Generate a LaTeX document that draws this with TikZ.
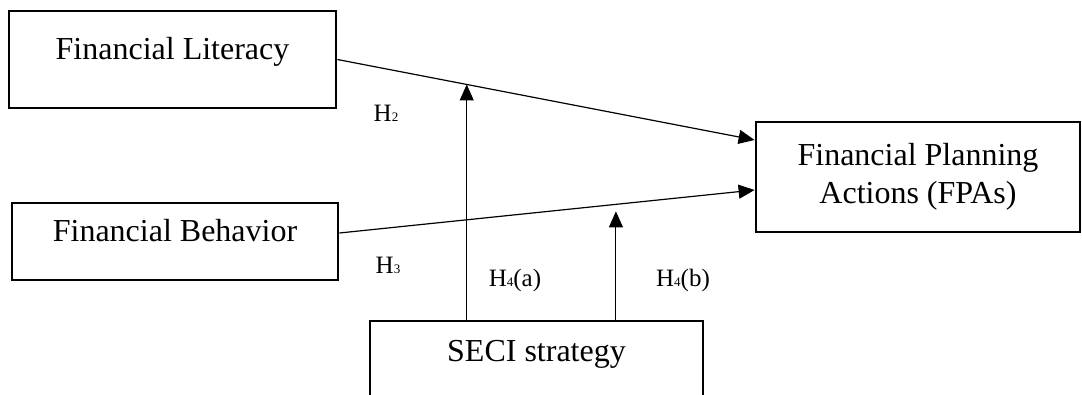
\documentclass[tikz,border=0pt]{standalone}
\usepackage{fontspec}
\setmainfont{Liberation Serif}
\usetikzlibrary{arrows.meta}
\newcommand{\hypo}[1]{H{\fontsize{13}{13}\selectfont #1}}

\begin{document}
\begin{tikzpicture}[x=1pt,y=1pt,
    box/.style={draw,rectangle,line width=2.8pt,inner sep=0pt,align=center,
      font=\fontsize{32}{38}\selectfont},
    midtext/.style={text height=23pt,text depth=23pt},
    lbl/.style={anchor=base,font=\fontsize{25}{30}\selectfont},
    arr/.style={-{Triangle[length=16pt,width=14pt]},line width=1.2pt}]
          \useasboundingbox (0,0) rectangle (1082,394);
          \clip (0,0) rectangle (1082,394);
          \node[box,midtext,minimum width=327pt,minimum height=97pt] (lit) at (172.5,334.5) {Financial Literacy};
          \node[box,midtext,minimum width=326pt,minimum height=77pt] (beh) at (175,152.5) {Financial Behavior};
          \node[box,minimum width=324pt,minimum height=110pt] (fpa) at (918,217) {Financial Planning\\Actions (FPAs)};
          \node[box,midtext,minimum width=333pt,minimum height=80pt] (seci) at (536.5,33) {SECI strategy};
          \draw[arr] (lit.east) -- coordinate[pos=0.31] (ma) ([yshift=37pt]fpa.west);
          \draw[arr] ([yshift=8.5pt]beh.east) -- coordinate[pos=0.666] (mb) ([yshift=-13pt]fpa.west);
          \draw[arr,line width=1pt] (seci.north -| ma) -- (ma);
          \draw[arr,line width=1pt] (seci.north -| mb) -- ([yshift=-7pt]mb);
          \node[lbl] (h2) at (386,272) {\hypo{2}};
          \node[lbl] (h3) at (388,121) {\hypo{3}};
          \node[lbl] (h4a) at (515,107) {\hypo{4}(a)};
          \node[lbl] (h4b) at (683,107) {\hypo{4}(b)};
        \end{tikzpicture}
\end{document}
